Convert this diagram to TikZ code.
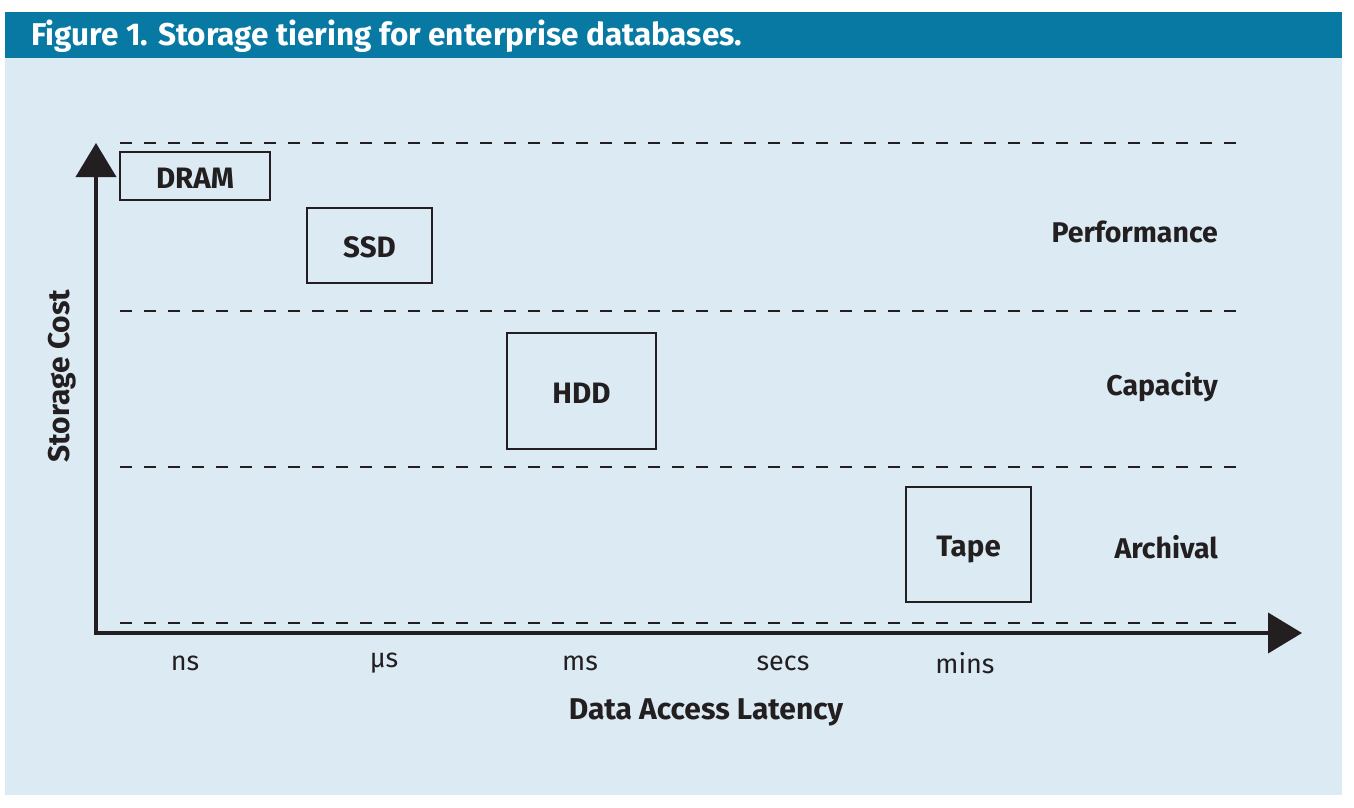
\documentclass[tikz,border=0pt]{standalone}
\usepackage{fontspec}
\setmainfont{Fira Sans}
\usetikzlibrary{arrows.meta}
\definecolor{hdrblue}{HTML}{0879A3}
\definecolor{panelblue}{HTML}{DBEAF3}
\definecolor{ink}{HTML}{231F20}
\tikzset{
  tier/.style={draw=ink, line width=1.5pt, inner sep=0pt, text height=24pt, text depth=0pt, font=\fontsize{29.5}{32}\selectfont\bfseries, text=ink},
  tierlabel/.style={anchor=east, inner sep=0pt, font=\fontsize{28.5}{32}\selectfont\bfseries, text=ink},
  tick/.style={inner sep=0pt, font=\fontsize{27}{30}\selectfont, text=ink},
  guide/.style={draw=ink, line width=1.5pt, dash pattern=on 12pt off 12pt},
  axis/.style={draw=ink, line width=4pt, -{Triangle[length=34pt,width=40pt]}},
  axistitle/.style={inner sep=0pt, font=\fontsize{30}{33}\selectfont\bfseries, text=ink}
}
\begin{document}
\begin{tikzpicture}[x=1pt,y=-1pt]
\useasboundingbox (0,0) rectangle (1354,808);
\fill[white] (0,0) rectangle (1354,808);
\fill[panelblue] (5,58) rectangle (1342,795);
\fill[hdrblue] (5,12) rectangle (1342,58);
\node[anchor=west, inner sep=0pt, text=white, font=\fontsize{31.5}{34}\selectfont\bfseries] (title) at (31,36) {Figure 1. Storage tiering for enterprise databases.};

% guide lines
\coordinate (g1a) at (120,143); \coordinate (g1b) at (1237,143);
\coordinate (g2a) at (120,311); \coordinate (g2b) at (1237,311);
\coordinate (g3a) at (120,467); \coordinate (g3b) at (1237,467);
\coordinate (g4a) at (120,623); \coordinate (g4b) at (1237,623);
\draw[guide] (g1a) -- (g1b);
\draw[guide] (g2a) -- (g2b);
\draw[guide] (g3a) -- (g3b);
\draw[guide] (g4a) -- (g4b);

% axes
\coordinate (origin) at (96,633);
\coordinate (ytip) at (96,143);
\coordinate (xtip) at (1302,633);
\draw[axis] ([yshift=2pt]origin) -- (ytip);
\draw[axis] ([xshift=-2pt]origin) -- (xtip);

% tiers
\node[tier, minimum width=150pt, minimum height=48pt] (dram) at (195,176) {DRAM};
\node[tier, minimum width=125pt, minimum height=75pt] (ssd) at (369.5,245.5) {SSD};
\node[tier, minimum width=149pt, minimum height=116pt] (hdd) at (581.5,391) {HDD};
\node[tier, minimum width=125pt, minimum height=115pt] (tape) at (968.5,544.5) {Tape};

\node[tierlabel] (perf) at (1218,232) {Performance};
\node[tierlabel] (cap) at (1218,387) {Capacity};
\node[tierlabel] (arch) at (1218,547) {Archival};

% ticks
\node[tick] (ns) at (185,663) {ns};
\node[tick] (us) at (384,663) {µs};
\node[tick] (ms) at (580,663) {ms};
\node[tick] (secs) at (783,663) {secs};
\node[tick] (mins) at (965,663) {mins};

\node[axistitle] (xlab) at (706,712) {Data Access Latency};
\node[axistitle, rotate=90] (ylab) at (62,376) {Storage Cost};
\end{tikzpicture}
\end{document}
